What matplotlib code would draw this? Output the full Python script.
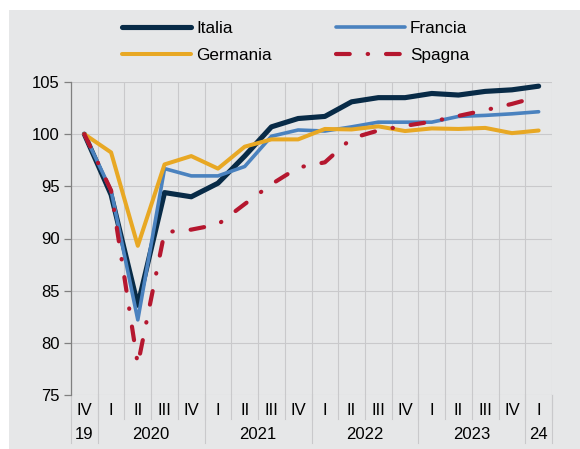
import matplotlib
matplotlib.use('Agg')
import matplotlib.pyplot as plt
import matplotlib.transforms as mtransforms
from matplotlib.patches import Rectangle

plt.rcParams['font.family'] = ['Liberation Sans', 'DejaVu Sans']

# trimestri da IV 2019 a I 2024
trimestri = ['IV', 'I', 'II', 'III', 'IV', 'I', 'II', 'III', 'IV',
             'I', 'II', 'III', 'IV', 'I', 'II', 'III', 'IV', 'I']
anni = ['19', '2020', '2021', '2022', '2023', '24']
anni_inizio = [0, 1, 5, 9, 13, 17]   # primo trimestre di ogni anno
anni_fine = [0, 4, 8, 12, 16, 17]    # ultimo trimestre di ogni anno

italia = [100, 94.2, 83.6, 94.4, 94.0, 95.3, 97.9, 100.7, 101.5,
          101.7, 103.1, 103.5, 103.5, 103.9, 103.75, 104.1, 104.25, 104.6]
francia = [100, 94.6, 82.2, 96.7, 96.0, 96.0, 96.9, 99.8, 100.4,
           100.3, 100.7, 101.15, 101.15, 101.15, 101.7, 101.8, 101.95, 102.15]
germania = [100, 98.25, 89.3, 97.1, 97.9, 96.7, 98.8, 99.5, 99.5,
            100.5, 100.45, 100.75, 100.3, 100.55, 100.5, 100.6, 100.1, 100.35]
spagna = [100, 94.6, 77.9, 90.6, 90.85, 91.35, 93.3, 95.2, 96.8,
          97.3, 99.6, 100.35, 100.8, 101.2, 101.75, 102.3, 102.9, 103.6]

grigio = '#E6E7E8'
griglia = '#C9C9CB'

fig = plt.figure(figsize=(5.8, 4.49), dpi=100, facecolor='white')
fig.patches.append(Rectangle((9 / 580, 0), 1, 1 - 10 / 449, transform=fig.transFigure,
                             facecolor=grigio, edgecolor='none', zorder=-10))
ax = fig.add_axes([71 / 580, 1 - 395 / 449, (552 - 71) / 580, (395 - 82) / 449])
ax.set_facecolor(grigio)

x = list(range(len(trimestri)))
ax.plot(x, italia, color='#082B47', lw=3.7, solid_capstyle='round', solid_joinstyle='round', label='Italia', zorder=3)
ax.plot(x, francia, color='#4A82BF', lw=2.6, solid_capstyle='round', solid_joinstyle='round', label='Francia', zorder=4)
ax.plot(x, germania, color='#E8A824', lw=2.9, solid_capstyle='round', solid_joinstyle='round', label='Germania', zorder=5)
ax.plot(x, spagna, color='#B5172F', lw=3.0, dashes=(3.3, 4.3, 0.1, 4.3), dash_capstyle='round',
        label='Spagna', zorder=6)

ax.set_xlim(-0.5, len(trimestri) - 0.5)
ax.set_ylim(75, 105)
ax.set_yticks(range(75, 106, 5))
ax.tick_params(axis='y', labelsize=12, length=5, color='#808080', width=0.9, pad=3)
ax.set_xticks([])
ax.grid(axis='y', color=griglia, lw=0.8)
for b in range(len(trimestri) + 1):
    ax.axvline(b - 0.5, color=griglia, lw=0.8, zorder=1)
for s in ['top', 'right', 'bottom']:
    ax.spines[s].set_visible(False)
ax.spines['left'].set_color('#808080')
ax.spines['left'].set_linewidth(0.9)
ax.set_axisbelow(True)

# etichette trimestri e anni sotto l'asse
trans = mtransforms.blended_transform_factory(ax.transData, ax.transAxes)
for i, q in enumerate(trimestri):
    ax.text(i, -0.048, q, transform=trans, ha='center', va='center', fontsize=12)
    ax.plot([i + 0.5, i + 0.5], [0, -0.077], transform=trans, color=griglia, lw=0.8, clip_on=False)
for a, i0, i1 in zip(anni, anni_inizio, anni_fine):
    ax.text((i0 + i1) / 2, -0.125, a, transform=trans, ha='center', va='center', fontsize=12)
    ax.plot([i0 - 0.5, i0 - 0.5], [0, -0.153], transform=trans, color=griglia, lw=0.8, clip_on=False)
ax.plot([len(trimestri) - 0.5] * 2, [0, -0.153], transform=trans, color=griglia, lw=0.8, clip_on=False)

h, l = ax.get_legend_handles_labels()
order = [0, 2, 1, 3]
fig.legend([h[k] for k in order], [l[k] for k in order], ncol=2, frameon=False,
           loc='center', bbox_to_anchor=(0.51, 0.906), fontsize=12.3,
           handlelength=4.0, handletextpad=0.3, columnspacing=3.8, labelspacing=0.72)

fig.savefig('out.png', dpi=100, facecolor='white')
